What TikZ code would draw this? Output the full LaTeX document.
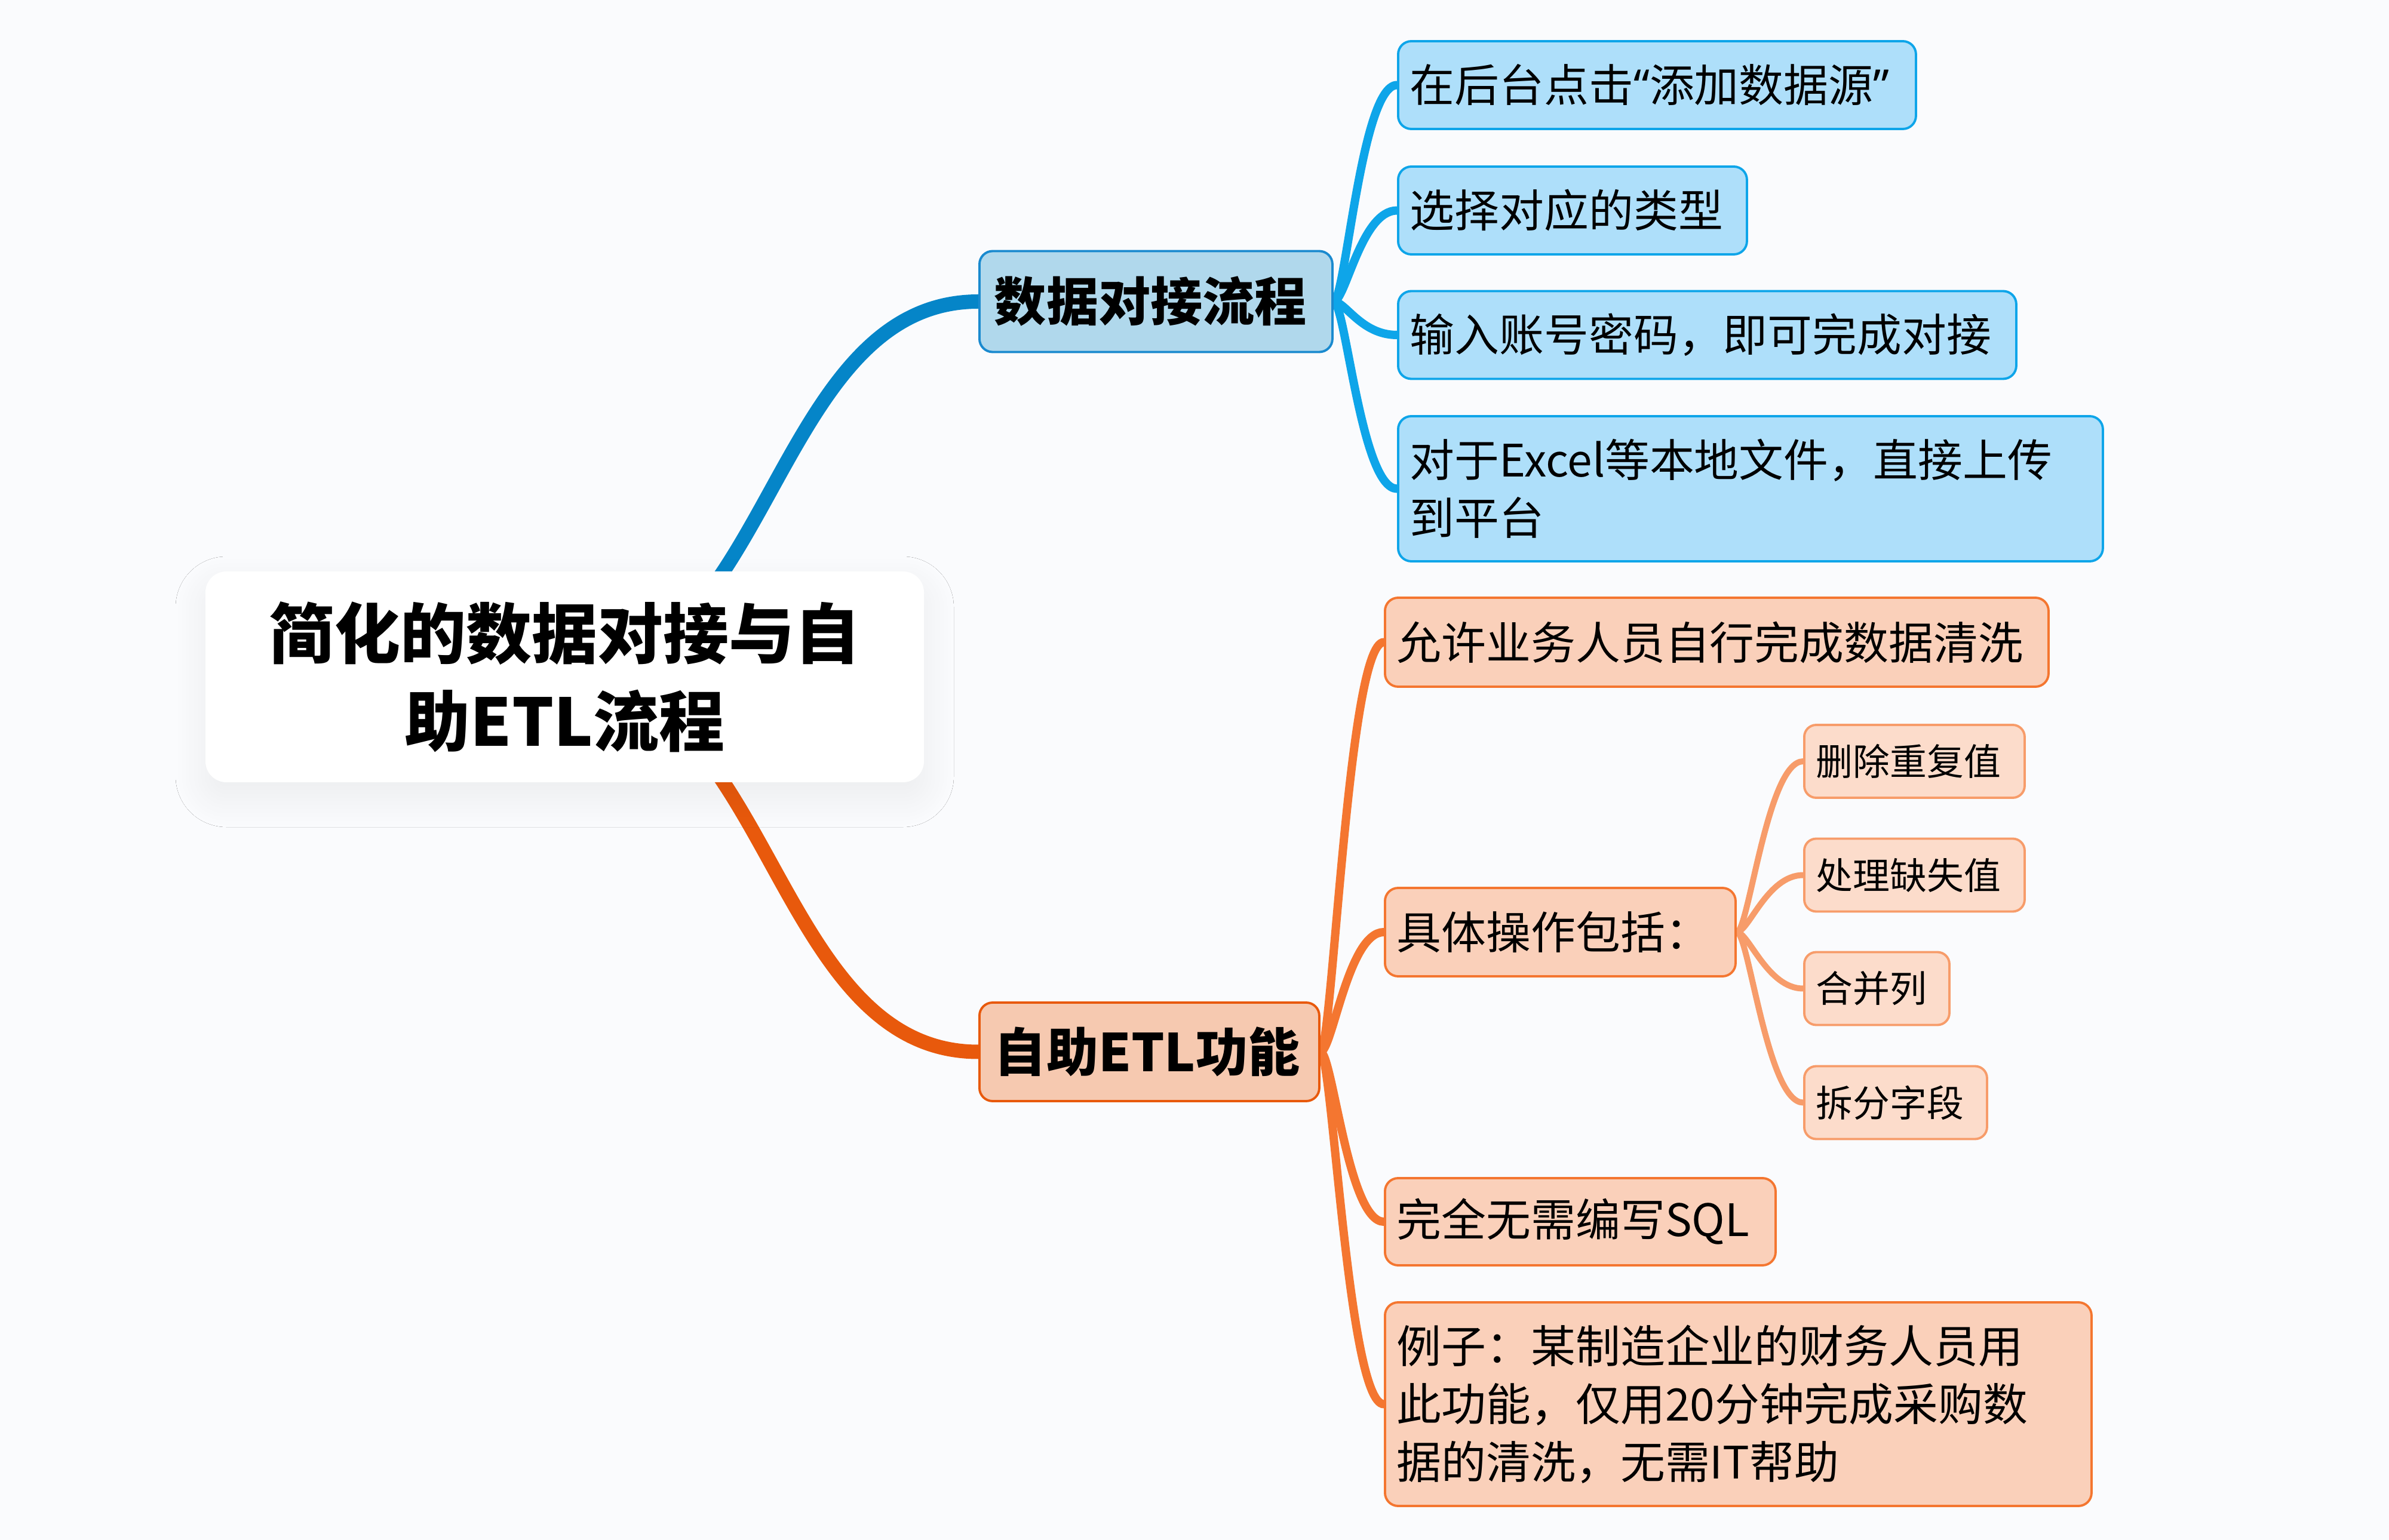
\documentclass[tikz,border=0pt]{standalone}
\usepackage{fontspec}
\setmainfont{Noto Sans CJK SC}
\newfontfamily\latinfont{Noto Sans}
\usepackage{tikz}
\usetikzlibrary{backgrounds, shadows.blur}
\definecolor{bgpage}{HTML}{FAFBFD}
\definecolor{bluemain}{HTML}{0585C8}
\definecolor{bluebranch}{HTML}{0EA5E9}
\definecolor{bluehead}{HTML}{B0D8EC}
\definecolor{blueedge}{HTML}{1A8ACF}
\definecolor{bluebox}{HTML}{AEDFFA}
\definecolor{orgmain}{HTML}{E8590C}
\definecolor{orgbranch}{HTML}{F47630}
\definecolor{orgleaf}{HTML}{F79C6A}
\definecolor{orghead}{HTML}{F6C9B0}
\definecolor{orgbox}{HTML}{FAD0BA}
\definecolor{orgleafbox}{HTML}{FCDCCB}

\begin{document}
\begin{tikzpicture}[
        rootbox/.style={fill=white, rounded corners=0.35cm, minimum width=12.03cm,
                        minimum height=3.53cm, align=center,
                        font=\fontsize{31.3pt}{41.8pt}\selectfont\bfseries,
                        blur shadow={shadow xshift=0pt, shadow yshift=-0.25cm,
                                     shadow blur radius=0.5cm, shadow blur steps=25,
                                     shadow opacity=6}},
        headbox/.style={draw, line width=1.1pt, rounded corners=0.22cm, anchor=west,
                        inner xsep=0.25cm, align=left,
                        font=\fontsize{24.8pt}{30pt}\selectfont\bfseries},
        subbox/.style={draw, line width=1.1pt, rounded corners=0.22cm, anchor=west,
                       inner xsep=0.2cm, minimum height=1.47cm, align=left,
                       font=\fontsize{21.3pt}{27.6pt}\selectfont},
        bluesub/.style={subbox, fill=bluebox, draw=bluebranch},
        orgsub/.style={subbox, fill=orgbox, draw=orgbranch},
        leafbox/.style={draw=orgleaf, fill=orgleafbox, line width=1.1pt,
                        rounded corners=0.2cm, anchor=west, inner xsep=0.2cm,
                        minimum height=1.22cm, align=left,
                        font=\fontsize{17.6pt}{22pt}\selectfont},
        mainline/.style={line width=0.24cm, line cap=round},
        subline/.style={line width=0.14cm, line cap=round},
        leafline/.style={line width=0.1cm, line cap=round}
      ]
      \useasboundingbox (0,0) rectangle (40,-25.79);

      % centre
      \node[rootbox] (root) at (9.455,-11.335) {简化的数据对接与自\\助ETL流程};

      % upper branch
      \node[headbox, fill=bluehead, draw=blueedge, text width=5.41cm,
            minimum height=1.69cm] (data) at (16.38,-5.05) {数据对接流程};
      \node[bluesub, text width=8.27cm] (add) at (23.39,-1.425)
        {在后台点击{\latinfont “}添加数据源{\latinfont ”}};
      \node[bluesub, text width=5.44cm] (type) at (23.39,-3.525) {选择对应的类型};
      \node[bluesub, text width=9.95cm] (login) at (23.39,-5.61) {输入账号密码，即可完成对接};
      \node[bluesub, text width=11.4cm, minimum height=2.43cm] (upload) at (23.39,-8.185)
        {对于Excel等本地文件，直接上传\\到平台};

      % lower branch
      \node[headbox, fill=orghead, draw=orgmain, text width=5.19cm,
            minimum height=1.65cm] (etl) at (16.38,-17.615) {自助ETL功能};
      \node[orgsub, text width=10.71cm, minimum height=1.49cm] (self) at (23.17,-10.755)
        {允许业务人员自行完成数据清洗};
      \node[orgsub, text width=5.47cm, minimum height=1.48cm] (ops) at (23.17,-15.61)
        {具体操作包括：};
      \node[orgsub, text width=6.14cm, minimum height=1.46cm] (nosql) at (23.17,-20.46)
        {完全无需编写SQL};
      \node[orgsub, text width=11.43cm, minimum height=3.41cm] (case) at (23.17,-23.515)
        {例子：某制造企业的财务人员用\\此功能，仅用20分钟完成采购数\\据的清洗，无需IT帮助};

      % operations
      \node[leafbox, text width=3.29cm] (dup) at (30.19,-12.75) {删除重复值};
      \node[leafbox, text width=3.29cm] (miss) at (30.19,-14.655) {处理缺失值};
      \node[leafbox, text width=2.03cm] (merge) at (30.19,-16.555) {合并列};
      \node[leafbox, text width=2.66cm] (split) at (30.19,-18.465) {拆分字段};

      \begin{scope}[on background layer]
        \fill[bgpage] (0,0) rectangle (40,-25.79);
        \draw[mainline, bluemain] (root.center) .. controls +(3.46,0) and +(-3.46,0) .. (data.west);
        \draw[mainline, orgmain] (root.center) .. controls +(3.46,0) and +(-3.46,0) .. (etl.west);
        \foreach \n in {add, type, login, upload}
          \draw[subline, bluebranch] (data.east) .. controls +(0.2,0) and +(-0.6,0) .. (\n.west);
        \foreach \n in {self, ops, nosql, case}
          \draw[subline, orgbranch] (etl.east) .. controls +(0.2,0) and +(-0.6,0) .. (\n.west);
        \foreach \n in {dup, miss, merge, split}
          \draw[leafline, orgleaf] (ops.east) .. controls +(0.2,0) and +(-0.6,0) .. (\n.west);
      \end{scope}
    \end{tikzpicture}
\end{document}
